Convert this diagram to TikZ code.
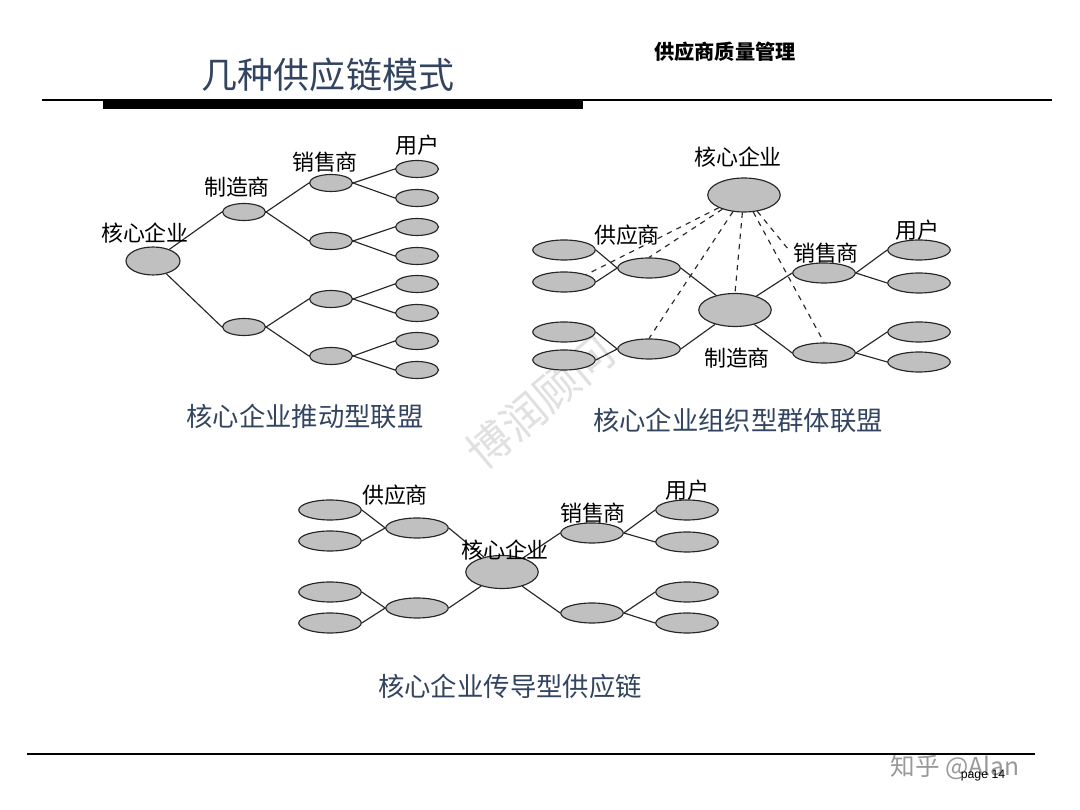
\documentclass[tikz,border=0pt]{standalone}
\usepackage{fontspec}
\setmainfont{Liberation Sans}
\newfontfamily\cjk{Noto Sans CJK SC}
\usetikzlibrary{shapes.geometric}
\definecolor{cellgray}{RGB}{192,192,192}
\definecolor{titleblue}{RGB}{50,68,96}

\tikzset{
  cell/.style={ellipse,draw=black!85,fill=cellgray,inner sep=0pt,line width=0.65pt},
  leaf/.style={cell,minimum width=0.86cm,minimum height=0.34cm},
  midcell/.style={cell,minimum width=1.25cm,minimum height=0.40cm},
  bigcell/.style={cell,minimum width=1.45cm,minimum height=0.68cm},
  lbl/.style={font=\cjk\fontsize{12.5}{14}\selectfont},
  captxt/.style={font=\cjk\fontsize{15}{17}\selectfont,text=titleblue},
  link/.style={line width=0.65pt,black!85},
  dashlink/.style={link,dashed}
}

\begin{document}
\begin{tikzpicture}[x=0.02cm,y=-0.02cm]
\useasboundingbox (0,0) rectangle (1080,810);
% header
\node[font=\cjk\fontsize{20.5}{24}\selectfont,text=titleblue] (title) at (328,75) {几种供应链模式};
\node[font=\cjk\bfseries\fontsize{11.5}{13}\selectfont] (topic) at (725,52) {供应商质量管理};
\draw[line width=0.9pt] (42,100) -- (1052,100);
\fill (103,101) rectangle (583,109);
% watermarks
\node[font=\cjk\fontsize{25}{28}\selectfont,text=black!12,rotate=40] (wm) at (540,402) {博润顾问};
\node[font=\cjk\fontsize{14}{16}\selectfont,text=black!40] (zh) at (955,767) {知乎 @Alan};

% push type
\node[cell,minimum width=1.08cm,minimum height=0.56cm] (pcore) at (153,261) {};
\node[leaf] (pm1) at (244,212) {};
\node[leaf] (pm2) at (244,327) {};
\foreach \i/\y in {1/183,2/241,3/299,4/356} \node[leaf] (pd\i) at (331,\y) {};
\foreach \i/\y in {1/169,2/198,3/227,4/256,5/284,6/313,7/341,8/370} \node[leaf] (pu\i) at (417,\y) {};
\draw[link] (pcore) -- (pm1.west);
\draw[link] (pcore) -- (pm2.west);
\foreach \m/\d in {1/1,1/2,2/3,2/4} \draw[link] (pm\m.east) -- (pd\d.west);
\foreach \d/\u in {1/1,1/2,2/3,2/4,3/5,3/6,4/7,4/8} \draw[link] (pd\d.east) -- (pu\u.west);
\node[lbl] (pcorel) at (145,233) {核心企业};
\node[lbl] (pml) at (237,187) {制造商};
\node[lbl] (pdl) at (325,162) {销售商};
\node[lbl] (pul) at (417,145) {用户};
\node[captxt] (pcap) at (305,416) {核心企业推动型联盟};

% organised type
\node[bigcell] (ocore) at (744,195) {};
\node[bigcell,minimum height=0.66cm] (om) at (735,310) {};
\node[midcell] (os1) at (649,268) {};
\node[midcell] (os2) at (649,349) {};
\node[midcell] (od1) at (824,273) {};
\node[midcell] (od2) at (824,353) {};
\foreach \i/\y in {1/250,2/282,3/332,4/360} \node[midcell] (osl\i) at (564,\y) {};
\foreach \i/\y in {1/250,2/283,3/332,4/362} \node[midcell] (our\i) at (919,\y) {};
\foreach \l/\s in {1/1,2/1,3/2,4/2} \draw[link] (osl\l.east) -- (os\s.west);
\draw[link] (os1.east) -- (om);
\draw[link] (os2.east) -- (om);
\draw[link] (om) -- (od1.west);
\draw[link] (om) -- (od2.west);
\foreach \d/\u in {1/1,1/2,2/3,2/4} \draw[link] (od\d.east) -- (our\u.west);
\draw[dashlink] (ocore) -- (osl2.north east);
\draw[dashlink] (ocore) -- (os1.north);
\draw[dashlink] (ocore) -- (os2.north);
\draw[dashlink] (ocore) -- (om.north);
\draw[dashlink,shorten >=0.38cm] (ocore) -- (od1.north west);
\draw[dashlink] (ocore) -- (od2.north);
\node[lbl] (ocorel) at (738,157) {核心企业};
\node[lbl] (osl) at (627,235) {供应商};
\node[lbl] (oml) at (737,358) {制造商};
\node[lbl] (odl) at (826,253) {销售商};
\node[lbl] (oul) at (917,230) {用户};
\node[captxt] (ocap) at (738,420) {核心企业组织型群体联盟};

% conduction type
\node[bigcell,minimum height=0.66cm] (ccore) at (502,572) {};
\node[midcell] (cs1) at (417,528) {};
\node[midcell] (cs2) at (417,608) {};
\node[midcell] (cd1) at (592,533) {};
\node[midcell] (cd2) at (592,613) {};
\foreach \i/\y in {1/510,2/541,3/592,4/623} \node[midcell] (csl\i) at (330,\y) {};
\foreach \i/\y in {1/510,2/542,3/592,4/623} \node[midcell] (cur\i) at (687,\y) {};
\foreach \l/\s in {1/1,2/1,3/2,4/2} \draw[link] (csl\l.east) -- (cs\s.west);
\draw[link] (cs1.east) -- (ccore);
\draw[link] (cs2.east) -- (ccore);
\draw[link] (ccore) -- (cd1.west);
\draw[link] (ccore) -- (cd2.west);
\foreach \d/\u in {1/1,1/2,2/3,2/4} \draw[link] (cd\d.east) -- (cur\u.west);
\node[lbl] (csl) at (395,495) {供应商};
\node[lbl] (ccorel) at (505,550) {核心企业};
\node[lbl] (cdl) at (593,513) {销售商};
\node[lbl] (cul) at (687,490) {用户};
\node[captxt] (ccap) at (510,686) {核心企业传导型供应链};

% footer
\draw[line width=0.9pt] (27,754) -- (1035,754);
\node[font=\fontsize{7}{8}\selectfont] (page) at (983,776) {page 14};
\end{tikzpicture}
\end{document}
